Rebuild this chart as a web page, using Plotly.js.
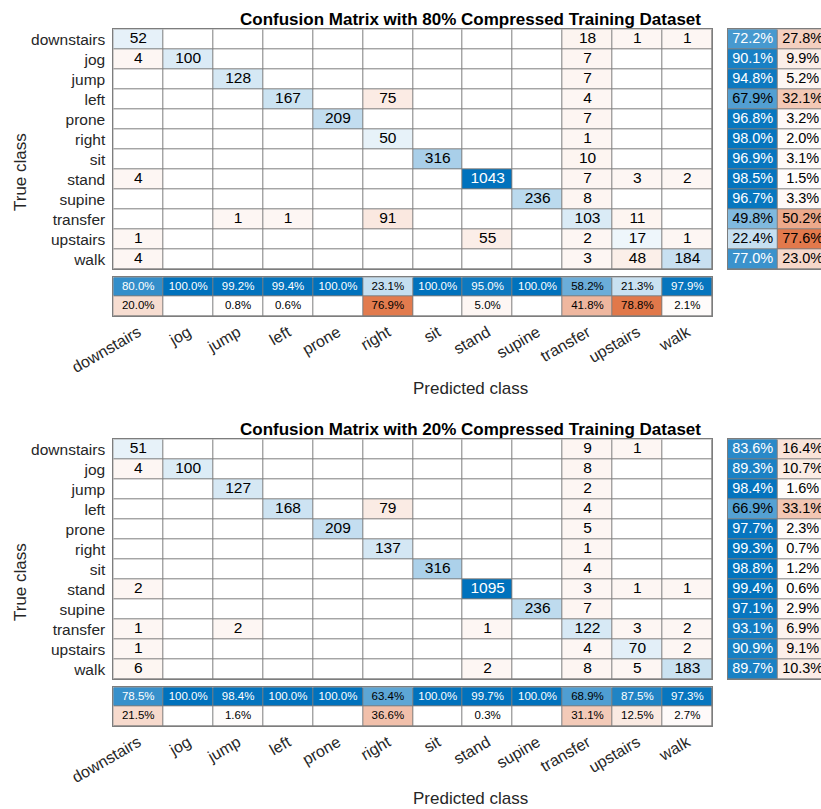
<!DOCTYPE html>
<html>
<head>
<meta charset="utf-8">
<script src="https://cdn.plot.ly/plotly-3.0.1.min.js"></script>
<style>html,body{margin:0;padding:0;background:#fff;}#chart{width:821px;height:809px;}</style>
</head>
<body>
<div id="chart"></div>
<script>
// ---------------- data ----------------
const classes = ['downstairs','jog','jump','left','prone','right','sit','stand','supine','transfer','upstairs','walk'];

const title80 = 'Confusion Matrix with 80% Compressed Training Dataset';
const cm80 = [
  [52,0,0,0,0,0,0,0,0,18,1,1],
  [4,100,0,0,0,0,0,0,0,7,0,0],
  [0,0,128,0,0,0,0,0,0,7,0,0],
  [0,0,0,167,0,75,0,0,0,4,0,0],
  [0,0,0,0,209,0,0,0,0,7,0,0],
  [0,0,0,0,0,50,0,0,0,1,0,0],
  [0,0,0,0,0,0,316,0,0,10,0,0],
  [4,0,0,0,0,0,0,1043,0,7,3,2],
  [0,0,0,0,0,0,0,0,236,8,0,0],
  [0,0,1,1,0,91,0,0,0,103,11,0],
  [1,0,0,0,0,0,0,55,0,2,17,1],
  [4,0,0,0,0,0,0,0,0,3,48,184]
];

const title20 = 'Confusion Matrix with 20% Compressed Training Dataset';
const cm20 = [
  [51,0,0,0,0,0,0,0,0,9,1,0],
  [4,100,0,0,0,0,0,0,0,8,0,0],
  [0,0,127,0,0,0,0,0,0,2,0,0],
  [0,0,0,168,0,79,0,0,0,4,0,0],
  [0,0,0,0,209,0,0,0,0,5,0,0],
  [0,0,0,0,0,137,0,0,0,1,0,0],
  [0,0,0,0,0,0,316,0,0,4,0,0],
  [2,0,0,0,0,0,0,1095,0,3,1,1],
  [0,0,0,0,0,0,0,0,236,7,0,0],
  [1,0,2,0,0,0,0,1,0,122,3,2],
  [1,0,0,0,0,0,0,0,0,4,70,2],
  [6,0,0,0,0,0,0,2,0,8,5,183]
];

const xLabel = 'Predicted class';
const yLabel = 'True class';

// ---------------- style ----------------
const W = 821, H = 809;
const FONT = 'Liberation Sans, Arial, Helvetica, sans-serif';
const LINE = '#7d7d7d';
const BLUE = 'rgb(0,114,189)';
const ORANGE = 'rgb(217,83,25)';
const blueScale = [[0,'#ffffff'],[1,BLUE]];
const orangeScale = [[0,'#ffffff'],[1,ORANGE]];

const px = v => v / W;
const py = v => 1 - v / H;

function pct(p){ return (p*100).toFixed(1) + '%'; }
function txtColor(blueIntensity){ return blueIntensity > 0.7 ? '#ffffff' : '#000000'; }

const traces = [];
const layout = {
  width: W, height: H,
  margin: {l:0, r:0, t:0, b:0},
  paper_bgcolor: '#ffffff',
  plot_bgcolor: LINE,
  showlegend: false,
  hovermode: false,
  font: {family: FONT, color: '#262626'},
  annotations: []
};

const common = {showgrid:false, zeroline:false, showline:true, linecolor:LINE, linewidth:1,
  mirror:true, ticks:'', fixedrange:true, automargin:false};

function panel(cm, title, off, k) {
  const n1 = 3*k+1, n2 = 3*k+2, n3 = 3*k+3;
  const xa = 'x'+(n1===1?'':n1), ya = 'y'+(n1===1?'':n1);
  const xb = 'x'+n2, yb = 'y'+n2;
  const xc = 'x'+n3, yc = 'y'+n3;
  const key = (s,n) => s+'axis'+(n===1?'':n);

  let maxv = 0;
  cm.forEach(r => r.forEach(v => { if (v > maxv) maxv = v; }));
  const inten = v => v > 0 ? 0.05 + 0.95 * v / maxv : 0;

  const diagZ = cm.map((r,i) => r.map((v,j) => i===j ? inten(v) : null));
  const offZ  = cm.map((r,i) => r.map((v,j) => i!==j ? inten(v) : null));

  const hm = {type:'heatmap', x:classes, y:classes, zmin:0, zmax:1, showscale:false,
    xgap:1, ygap:1, hoverinfo:'skip', xaxis:xa, yaxis:ya};
  traces.push(Object.assign({}, hm, {z:offZ, colorscale:orangeScale}));
  traces.push(Object.assign({}, hm, {z:diagZ, colorscale:blueScale}));

  const tx=[], ty=[], tt=[], tc=[];
  cm.forEach((r,i) => r.forEach((v,j) => {
    if (v > 0) {
      tx.push(classes[j]); ty.push(classes[i]); tt.push(String(v));
      tc.push(i===j ? txtColor(inten(v)) : '#000000');
    }
  }));
  traces.push({type:'scatter', mode:'text', x:tx, y:ty, text:tt, textposition:'middle center',
    textfont:{family:FONT, size:15.5, color:tc}, hoverinfo:'skip', xaxis:xa, yaxis:ya, cliponaxis:false});

  // row summary
  const rowTot = cm.map(r => r.reduce((a,b)=>a+b,0));
  const rowAcc = cm.map((r,i) => r[i] / rowTot[i]);
  traces.push({type:'heatmap', x:[0,1], y:classes, z:rowAcc.map(p => [p, null]), zmin:0, zmax:1,
    colorscale:blueScale, showscale:false, xgap:1, ygap:1, hoverinfo:'skip', xaxis:xb, yaxis:yb});
  traces.push({type:'heatmap', x:[0,1], y:classes, z:rowAcc.map(p => [null, 1-p]), zmin:0, zmax:1,
    colorscale:orangeScale, showscale:false, xgap:1, ygap:1, hoverinfo:'skip', xaxis:xb, yaxis:yb});
  const rx=[], ry=[], rt=[], rc=[];
  rowAcc.forEach((p,i) => {
    rx.push(0); ry.push(classes[i]); rt.push(pct(p)); rc.push(txtColor(p));
    if (1-p > 0.00001) { rx.push(1); ry.push(classes[i]); rt.push(pct(1-p)); rc.push('#000000'); }
  });
  traces.push({type:'scatter', mode:'text', x:rx, y:ry, text:rt, textposition:'middle center',
    textfont:{family:FONT, size:14.5, color:rc}, hoverinfo:'skip', xaxis:xb, yaxis:yb, cliponaxis:true});

  // column summary
  const colTot = classes.map((c,j) => cm.reduce((a,r)=>a+r[j],0));
  const colAcc = classes.map((c,j) => cm[j][j] / colTot[j]);
  traces.push({type:'heatmap', x:classes, y:[0,1], z:[colAcc, colAcc.map(()=>null)], zmin:0, zmax:1,
    colorscale:blueScale, showscale:false, xgap:1, ygap:1, hoverinfo:'skip', xaxis:xc, yaxis:yc});
  traces.push({type:'heatmap', x:classes, y:[0,1], z:[colAcc.map(()=>null), colAcc.map(p=>1-p)], zmin:0, zmax:1,
    colorscale:orangeScale, showscale:false, xgap:1, ygap:1, hoverinfo:'skip', xaxis:xc, yaxis:yc});
  const cx=[], cy=[], ct=[], cc=[];
  colAcc.forEach((p,j) => {
    cx.push(classes[j]); cy.push(0); ct.push(pct(p)); cc.push(txtColor(p));
    if (1-p > 0.00001) { cx.push(classes[j]); cy.push(1); ct.push(pct(1-p)); cc.push('#000000'); }
  });
  traces.push({type:'scatter', mode:'text', x:cx, y:cy, text:ct, textposition:'middle center',
    textfont:{family:FONT, size:11.5, color:cc}, hoverinfo:'skip', xaxis:xc, yaxis:yc, cliponaxis:false});

  // axes
  const dx = [px(113.3), px(712.3)];
  const dyM = [py(269.3+off), py(29.3+off)];
  const dyC = [py(316+off), py(277.3+off)];
  const catX = {type:'category', categoryorder:'array', categoryarray:classes};

  layout[key('x',n1)] = Object.assign({}, common, catX, {domain:dx, range:[-0.5,11.5], showticklabels:false, anchor:ya});
  layout[key('y',n1)] = Object.assign({}, common, catX, {domain:dyM, range:[11.5,-0.5],
    tickfont:{family:FONT, size:15.5, color:'#262626'}, ticklabelstandoff:4, anchor:xa});

  layout[key('x',n2)] = Object.assign({}, common, {domain:[px(727.7),1], range:[-0.5,-0.5+(W-727.7)/50],
    showticklabels:false, anchor:yb});
  layout[key('y',n2)] = Object.assign({}, common, catX, {mirror:false, domain:dyM, range:[11.5,-0.5],
    showticklabels:false, anchor:xb});

  layout[key('x',n3)] = Object.assign({}, common, catX, {domain:dx, range:[-0.5,11.5], tickangle:-30,
    tickfont:{family:FONT, size:16, color:'#262626'}, ticklabelstandoff:0, anchor:yc});
  layout[key('y',n3)] = Object.assign({}, common, {domain:dyC, range:[1.5,-0.5], showticklabels:false, anchor:xc});

  // titles
  layout.annotations.push({text:'<b>'+title+'</b>', xref:'paper', yref:'paper', x:px(470), y:py(19.5+off),
    xanchor:'center', yanchor:'middle', showarrow:false, font:{family:FONT, size:17, color:'#000000'}});
  layout.annotations.push({text:yLabel, xref:'paper', yref:'paper', x:px(20), y:py(172+off), textangle:-90,
    xanchor:'center', yanchor:'middle', showarrow:false, font:{family:FONT, size:17, color:'#262626'}});
  layout.annotations.push({text:xLabel, xref:'paper', yref:'paper', x:px(470), y:py(388+off),
    xanchor:'center', yanchor:'middle', showarrow:false, font:{family:FONT, size:17, color:'#262626'}});
}

panel(cm80, title80, 0, 0);
panel(cm20, title20, 410, 1);

Plotly.newPlot('chart', traces, layout, {displayModeBar:false, staticPlot:true});
</script>
</body>
</html>
